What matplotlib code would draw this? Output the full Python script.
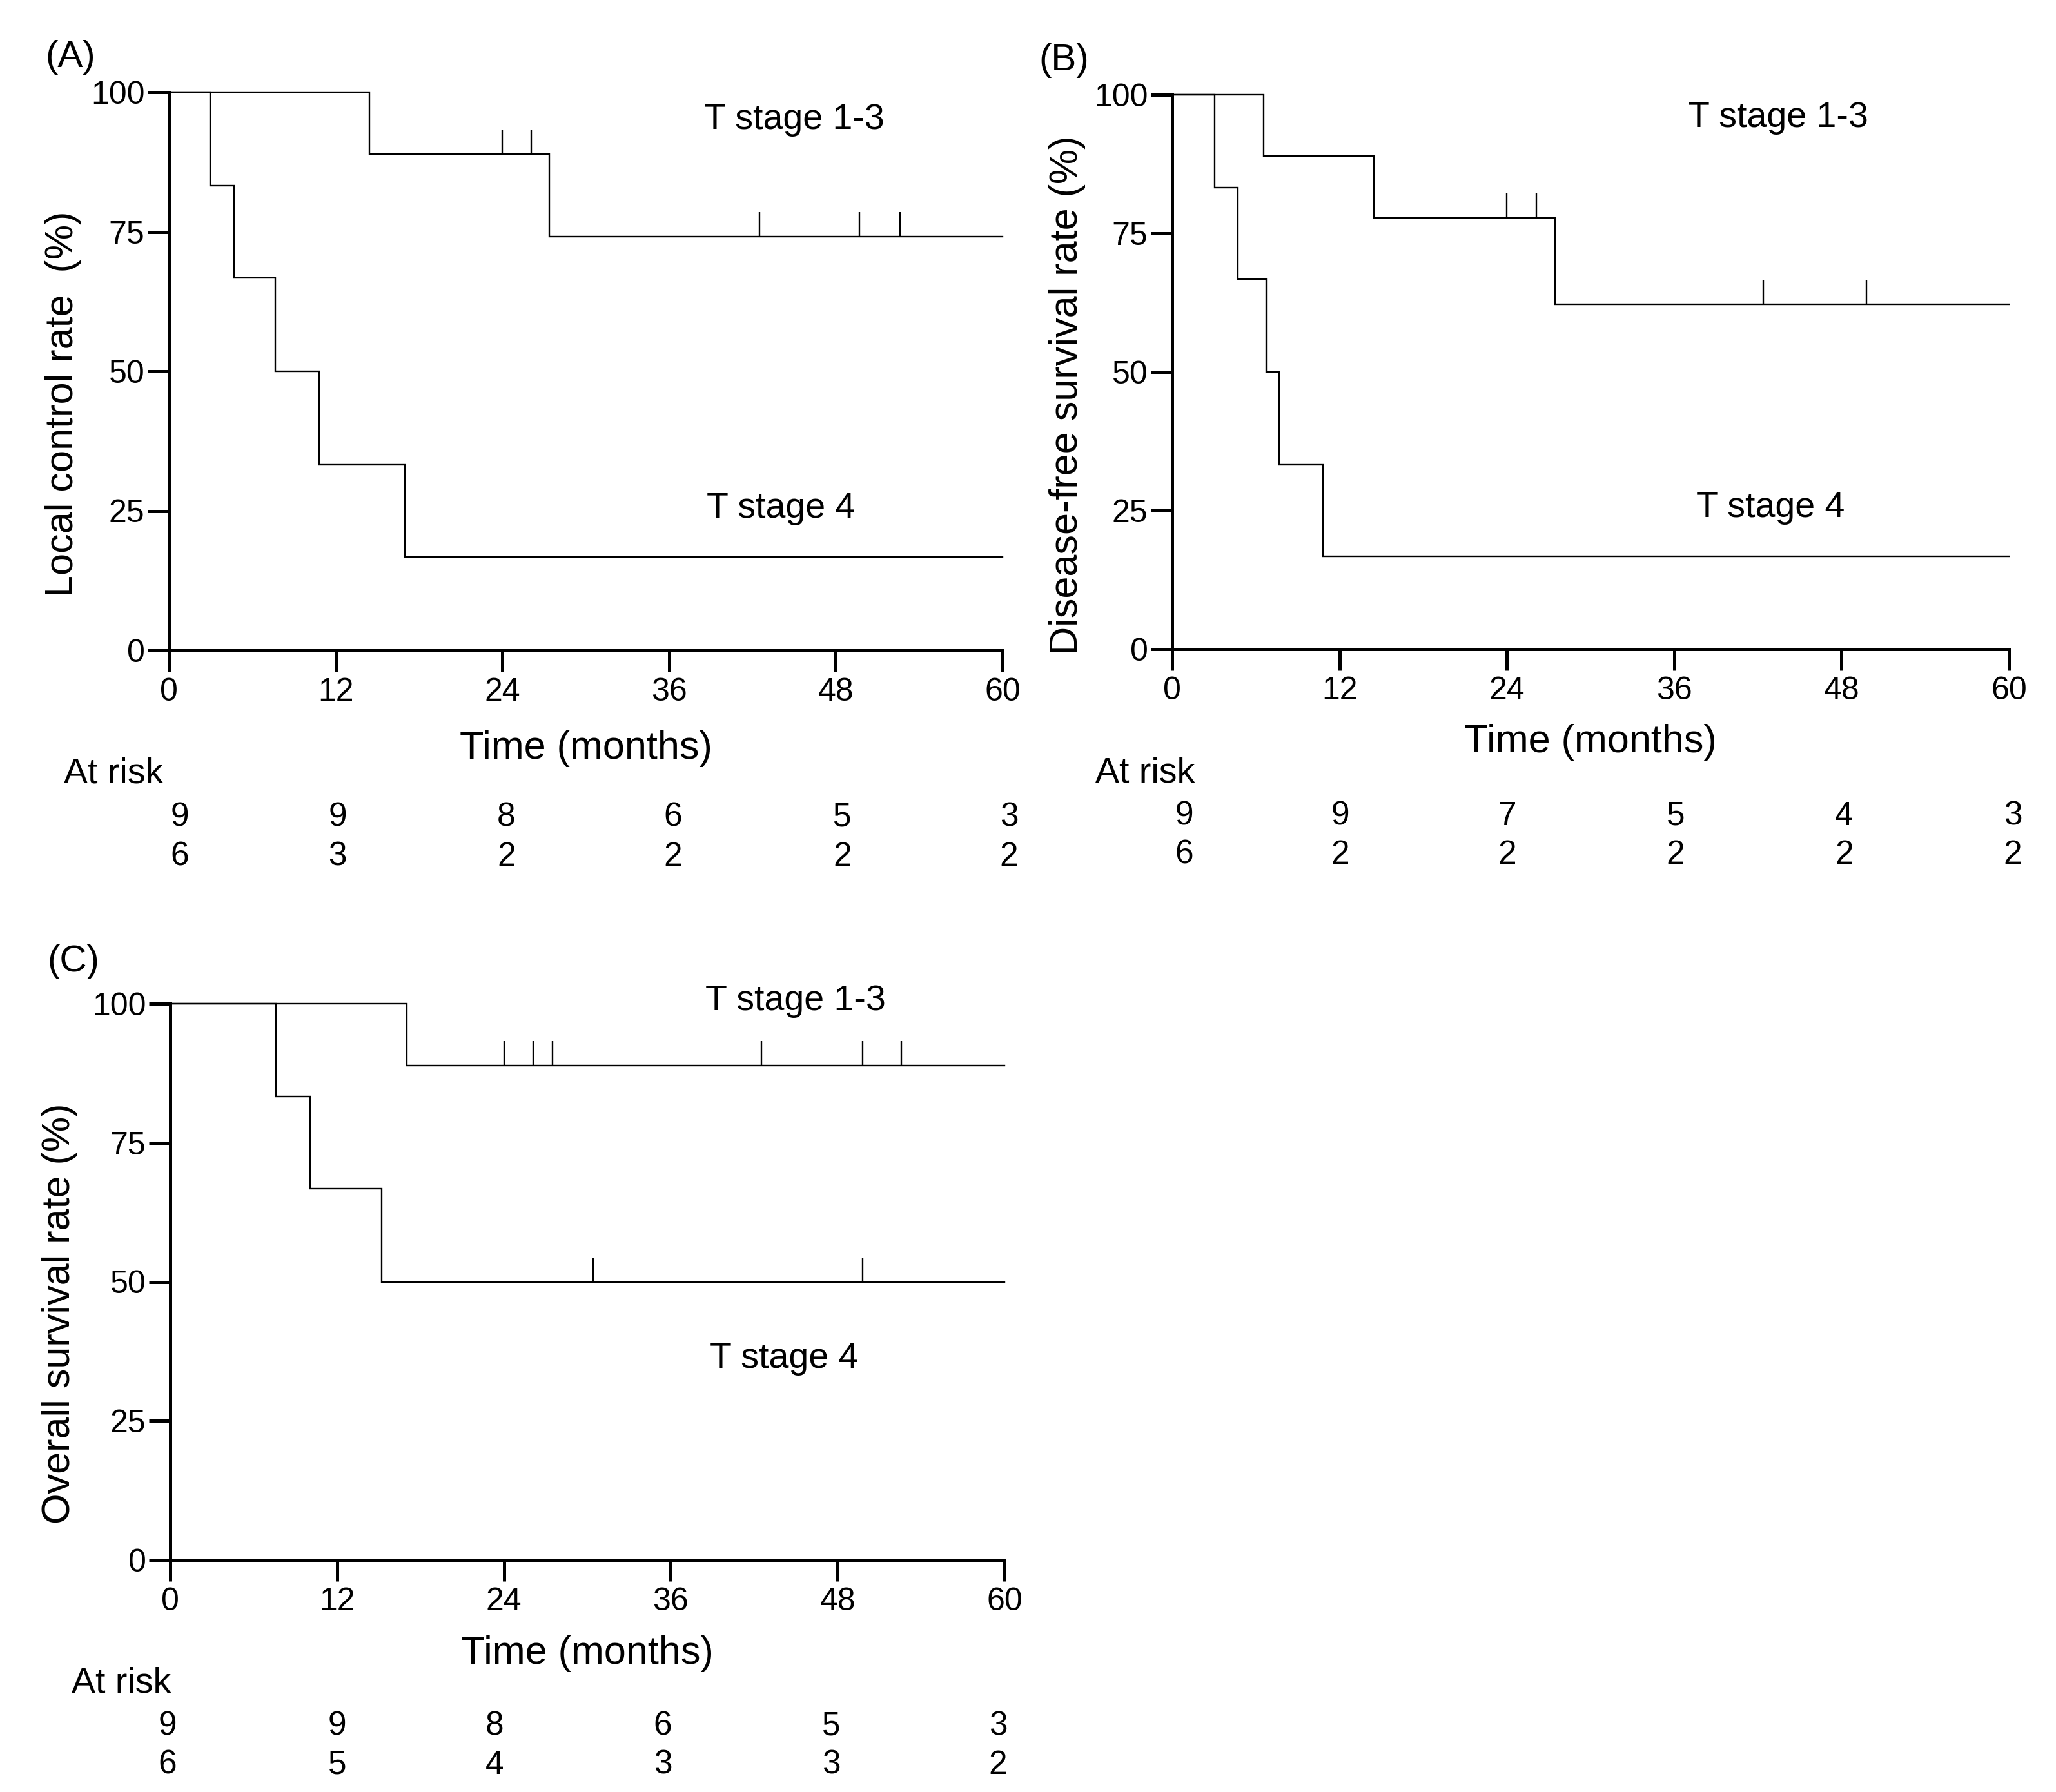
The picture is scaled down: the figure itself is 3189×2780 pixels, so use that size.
import matplotlib
matplotlib.use("Agg")
import matplotlib.pyplot as plt
from matplotlib.transforms import blended_transform_factory

plt.rcParams['font.family'] = ['Liberation Sans', 'DejaVu Sans']

W, H = 3189, 2780

# ---------------- data ----------------
# Panel A: local control
A_t13_times = [0, 14.45, 27.4, 60]
A_t13_surv = [100, 88.9, 74.1, 74.1]
A_t13_cens = [24.0, 26.1, 42.5, 49.7, 52.6]
A_t4_times = [0, 2.97, 4.68, 7.67, 10.83, 17.0, 60]
A_t4_surv = [100, 83.3, 66.7, 50.0, 33.3, 16.7, 16.7]
A_t4_cens = []
A_risk13 = [9, 9, 8, 6, 5, 3]
A_risk4 = [6, 3, 2, 2, 2, 2]
A_risk_x = [0.76, 12.13, 24.28, 36.28, 48.47, 60.47]

# Panel B: disease-free survival
B_t13_times = [0, 6.57, 14.45, 27.45, 60]
B_t13_surv = [100, 88.9, 77.8, 62.2, 62.2]
B_t13_cens = [24.0, 26.1, 42.4, 49.8]
B_t4_times = [0, 3.03, 4.71, 6.75, 7.67, 10.8, 60]
B_t4_surv = [100, 83.3, 66.7, 50.0, 33.3, 16.7, 16.7]
B_t4_cens = []
B_risk13 = [9, 9, 7, 5, 4, 3]
B_risk4 = [6, 2, 2, 2, 2, 2]
B_risk_x = [0.85, 12.05, 24.0, 36.1, 48.19, 60.28]

# Panel C: overall survival
C_t13_times = [0, 17.0, 60]
C_t13_surv = [100, 88.9, 88.9]
C_t13_cens = [24.0, 26.1, 27.5, 42.5, 49.8, 52.6]
C_t4_times = [0, 7.6, 10.06, 15.2, 60]
C_t4_surv = [100, 83.3, 66.7, 50.0, 50.0]
C_t4_cens = [30.4, 49.8]
C_risk13 = [9, 9, 8, 6, 5, 3]
C_risk4 = [6, 5, 4, 3, 3, 2]
C_risk_x = [-0.19, 12.0, 23.34, 35.43, 47.53, 59.53]

xticks = [0, 12, 24, 36, 48, 60]
yticks = [0, 25, 50, 75, 100]

CENSOR_H = 4.4
LW = 1.7

fig = plt.figure(figsize=(W / 100, H / 100), dpi=100)


def fx(x):
    return x / W


def fy(y):
    return 1 - y / H


def surv_at(times, surv, t):
    val = surv[0]
    for ti, si in zip(times, surv):
        if t >= ti:
            val = si
    return val


def make_panel(box, letter, letter_pos, ylabel, ylabel_pos, t13, s13, c13, t4, s4, c4,
               lab13, lab4, xlabel_base, atrisk_pos, risk_rows_base, r13, r4, risk_x):
    l, r, t, b = box
    ax = fig.add_axes([fx(l), fy(b), fx(r - l), (b - t) / H])
    ax.step(t13, s13, where='post', color='black', lw=LW, clip_on=False, solid_joinstyle='miter')
    ax.step(t4, s4, where='post', color='black', lw=LW, clip_on=False, solid_joinstyle='miter')
    for times, surv, cens in [(t13, s13, c13), (t4, s4, c4)]:
        for c in cens:
            yv = surv_at(times, surv, c)
            ax.vlines(c, yv, yv + CENSOR_H, color='black', lw=LW, clip_on=False)
    ax.set_xlim(0, 60)
    ax.set_ylim(0, 100)
    ax.set_xticks(xticks)
    ax.set_yticks(yticks)
    for s in ['top', 'right']:
        ax.spines[s].set_visible(False)
    for s in ['left', 'bottom']:
        ax.spines[s].set_linewidth(3.6)
    ax.tick_params(axis='both', direction='out', length=24, width=3.6, labelsize=36, color='black')
    ax.tick_params(axis='x', pad=6)
    ax.tick_params(axis='y', pad=3)
    ax.patch.set_visible(False)

    # curve labels
    ax.text(lab13[0], lab13[1], 'T stage 1-3', fontsize=40, ha='left', va='baseline')
    ax.text(lab4[0], lab4[1], 'T stage 4', fontsize=40, ha='left', va='baseline')

    # panel letter
    fig.text(fx(letter_pos[0]), fy(letter_pos[1]), letter, fontsize=42, ha='left', va='baseline')
    # y label
    fig.text(fx(ylabel_pos[0]), fy(ylabel_pos[1]), ylabel, fontsize=44, rotation=90,
             ha='center', va='center')
    # x label
    fig.text(fx((l + r) / 2), fy(xlabel_base), 'Time (months)', fontsize=44,
             ha='center', va='baseline')
    # at risk
    fig.text(fx(atrisk_pos[0]), fy(atrisk_pos[1]), 'At risk', fontsize=40, ha='left', va='baseline')
    trans = blended_transform_factory(ax.transData, fig.transFigure)
    for row, ybase in zip([r13, r4], risk_rows_base):
        for xp, n in zip(risk_x, row):
            ax.text(xp, fy(ybase), str(n), fontsize=37, ha='center', va='baseline',
                    transform=trans, clip_on=False)
    return ax


make_panel((262, 1555, 143, 1009), '(A)', (70, 104), 'Local control rate  (%)', (98, 627),
           A_t13_times, A_t13_surv, A_t13_cens, A_t4_times, A_t4_surv, A_t4_cens,
           (38.5, 93.4), (38.7, 23.8), 1177, (99, 1215), (1282, 1343), A_risk13, A_risk4, A_risk_x)

make_panel((1818, 3116, 147, 1007), '(B)', (1611, 109), 'Disease-free survival rate (%)', (1656, 613),
           B_t13_times, B_t13_surv, B_t13_cens, B_t4_times, B_t4_surv, B_t4_cens,
           (37.0, 94.2), (37.6, 23.8), 1167, (1699, 1213), (1280, 1340), B_risk13, B_risk4, B_risk_x)

make_panel((264, 1558, 1557, 2420), '(C)', (73, 1507), 'Overall survival rate (%)', (93, 2038),
           C_t13_times, C_t13_surv, C_t13_cens, C_t4_times, C_t4_surv, C_t4_cens,
           (38.5, 98.8), (38.8, 34.5), 2581, (111, 2625), (2691, 2752), C_risk13, C_risk4, C_risk_x)

fig.savefig('out.png', dpi=100, facecolor='white')
